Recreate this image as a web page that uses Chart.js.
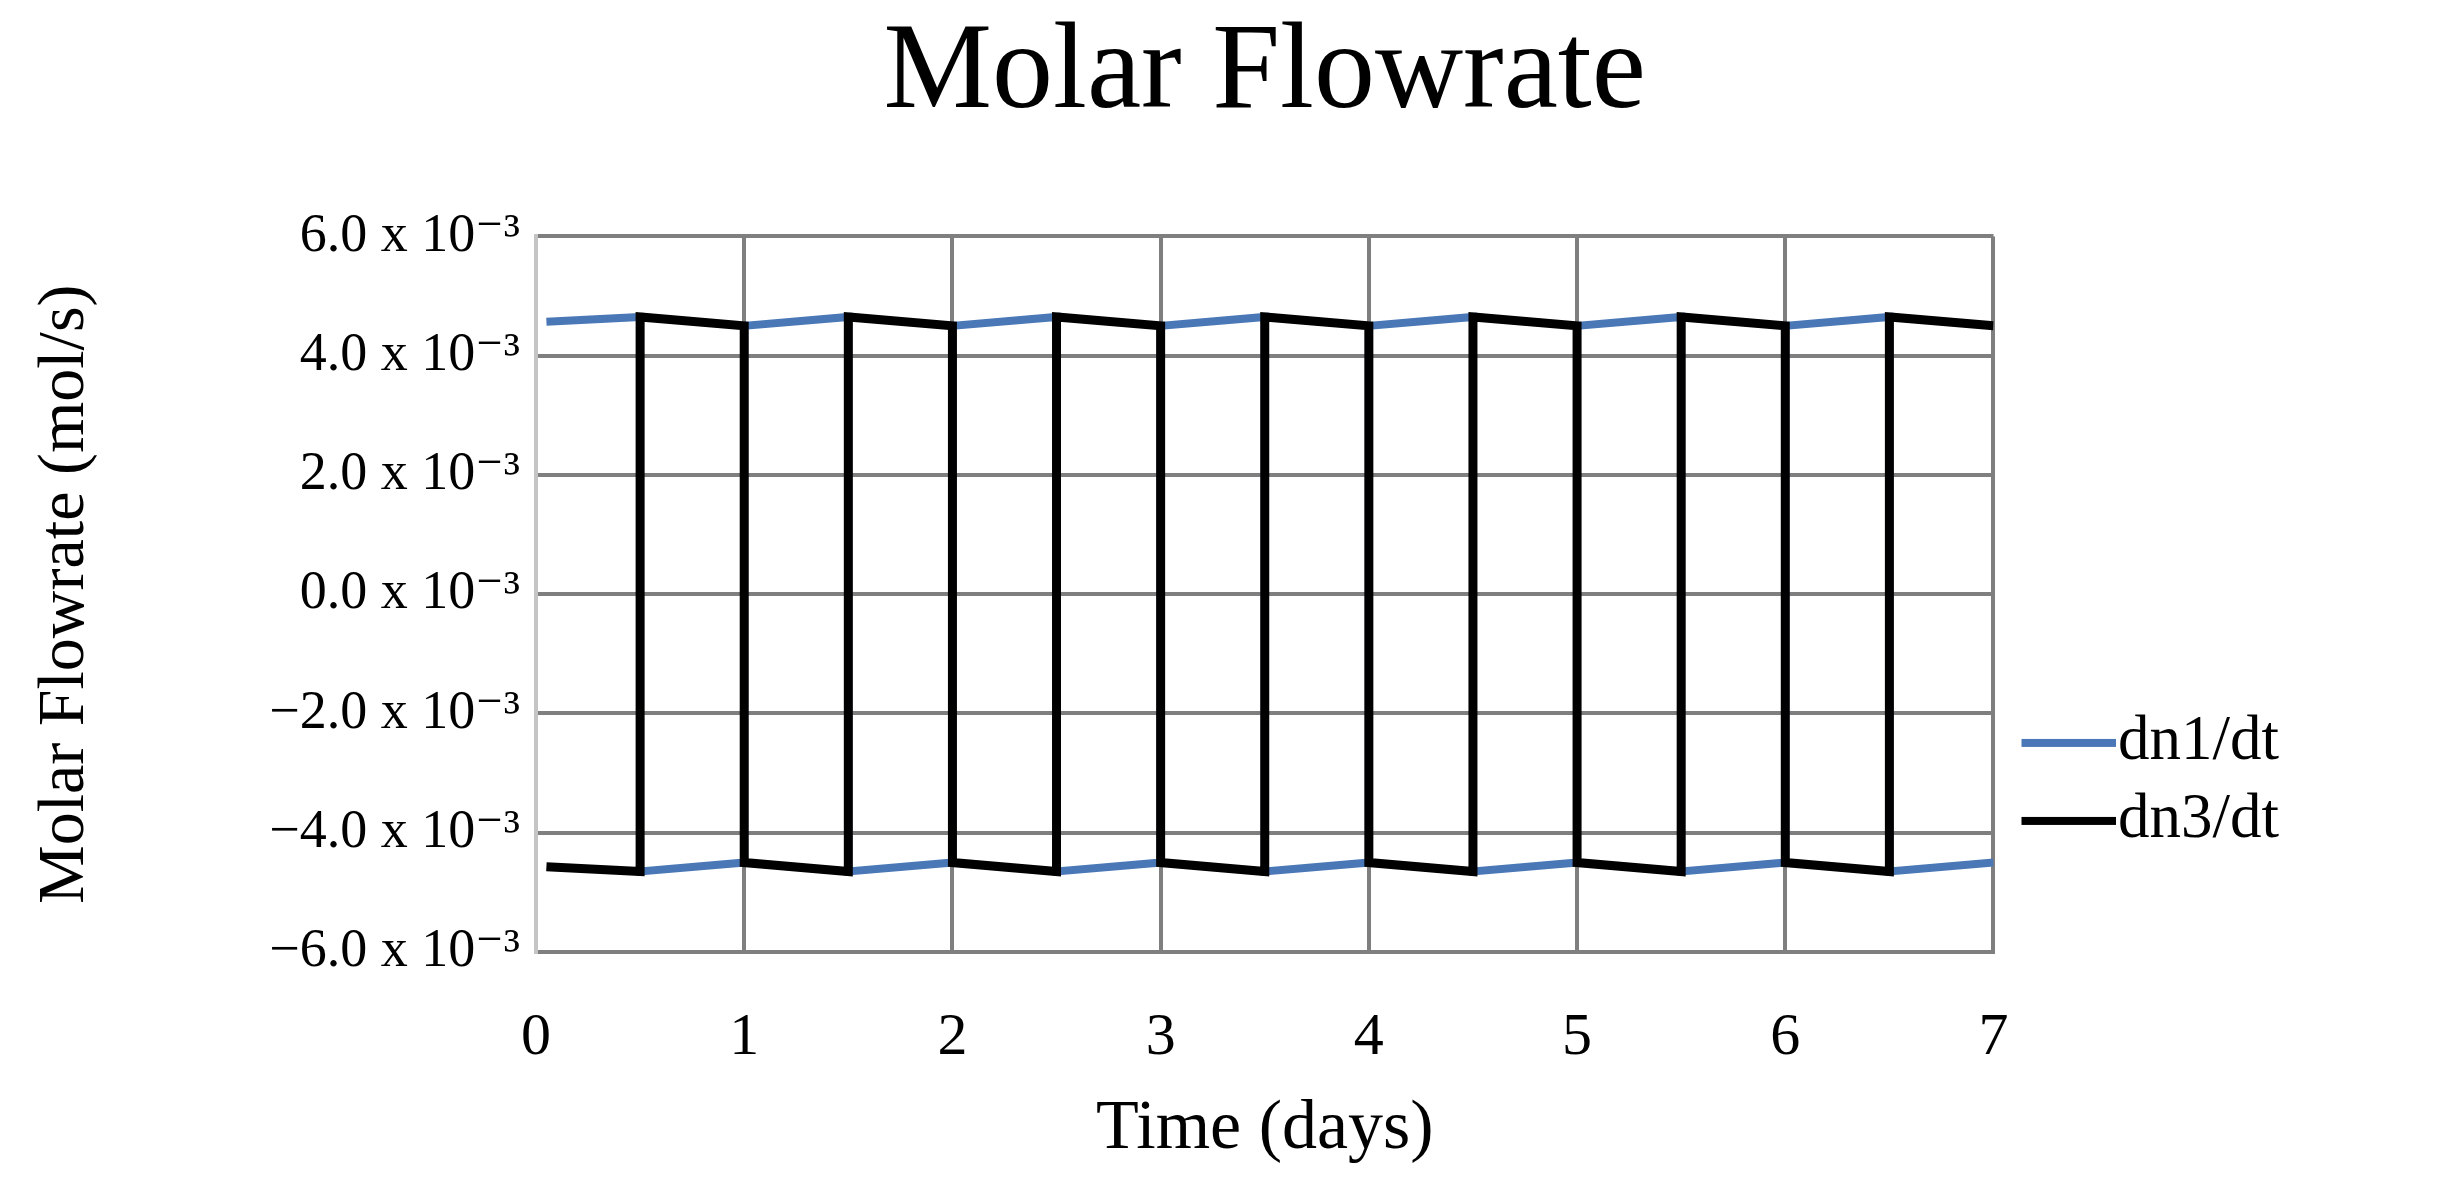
<!DOCTYPE html>
<html>
<head>
<meta charset="utf-8">
<script src="https://cdn.jsdelivr.net/npm/chart.js@4.4.1/dist/chart.umd.min.js"></script>
<style>
  html, body { margin: 0; padding: 0; background: #ffffff; }
  #wrap { width: 2457px; height: 1202px; }
</style>
</head>
<body>
<div id="wrap"><canvas id="c" width="2457" height="1202"></canvas></div>
<script>
// Time (days)
const timeDays = [0.05, 0.5, 0.5, 1, 1, 1.5, 1.5, 2, 2, 2.5, 2.5, 3, 3, 3.5, 3.5, 4, 4, 4.5, 4.5, 5, 5, 5.5, 5.5, 6, 6, 6.5, 6.5, 7];
// dn1/dt (x 10^-3 mol/s)
const dn1 = [4.57, 4.65, -4.65, -4.50, 4.50, 4.65, -4.65, -4.50, 4.50, 4.65, -4.65, -4.50, 4.50, 4.65, -4.65, -4.50, 4.50, 4.65, -4.65, -4.50, 4.50, 4.65, -4.65, -4.50, 4.50, 4.65, -4.65, -4.50];
// dn3/dt (x 10^-3 mol/s)
const dn3 = [-4.57, -4.65, 4.65, 4.50, -4.50, -4.65, 4.65, 4.50, -4.50, -4.65, 4.65, 4.50, -4.50, -4.65, 4.65, 4.50, -4.50, -4.65, 4.65, 4.50, -4.50, -4.65, 4.65, 4.50, -4.50, -4.65, 4.65, 4.50];
// y tick labels
const yTickValues = [6, 4, 2, 0, -2, -4, -6];
const yTickLabels = ['6.0 x 10\u207B\u00B3', '4.0 x 10\u207B\u00B3', '2.0 x 10\u207B\u00B3', '0.0 x 10\u207B\u00B3', '\u22122.0 x 10\u207B\u00B3', '\u22124.0 x 10\u207B\u00B3', '\u22126.0 x 10\u207B\u00B3'];
const xTickLabels = ['0', '1', '2', '3', '4', '5', '6', '7'];
const seriesNames = ['dn1/dt', 'dn3/dt'];
const seriesColors = ['#4a78b6', '#000000'];

const SERIF = '"Liberation Serif", "DejaVu Serif", serif';
const gridColor = '#7f7f7f';

const LEG_FONT = 63;
const LEG_BOX = 78;
const LEG_GAP = LEG_FONT / 2;
const LEG_INSET = 13;

// legend swatch: a line that runs from the swatch start up to the label text
function legendLine(color) {
  const c = document.createElement('canvas');
  c.width = LEG_BOX + 2 * LEG_GAP;
  c.height = 12;
  const g = c.getContext('2d');
  g.fillStyle = color;
  g.fillRect(LEG_GAP + LEG_INSET, 2, LEG_BOX + LEG_GAP - LEG_INSET - 2, 8);
  return c;
}

const pts = (ys) => timeDays.map((t, i) => ({ x: t, y: ys[i] }));

new Chart(document.getElementById('c'), {
  type: 'line',
  data: {
    datasets: [
      { label: seriesNames[0], data: pts(dn1), borderColor: seriesColors[0], backgroundColor: seriesColors[0],
        borderWidth: 8, pointRadius: 0, tension: 0, order: 1 },
      { label: seriesNames[1], data: pts(dn3), borderColor: seriesColors[1], backgroundColor: seriesColors[1],
        borderWidth: 9, pointRadius: 0, tension: 0, order: 0 }
    ]
  },
  options: {
    responsive: false,
    animation: false,
    devicePixelRatio: 1,
    layout: { padding: { left: 0, right: 168, top: 0, bottom: 0 } },
    plugins: {
      title: {
        display: true,
        fullSize: false,
        text: 'Molar Flowrate',
        color: '#000',
        font: { family: SERIF, size: 122, weight: 'normal' },
        padding: { top: 2, bottom: 88 }
      },
      legend: {
        display: true,
        position: 'right',
        fullSize: false,
        align: 'start',
        title: { display: true, text: '', font: { size: 10 }, padding: { top: 448, bottom: 0 } },
        labels: {
          color: '#000',
          font: { family: SERIF, size: LEG_FONT },
          usePointStyle: true,
          pointStyleWidth: LEG_BOX,
          boxHeight: 8,
          padding: 15,
          sort: (a, b) => a.datasetIndex - b.datasetIndex,
          generateLabels: (chart) => {
            const items = Chart.defaults.plugins.legend.labels.generateLabels(chart);
            items.forEach((it) => { it.pointStyle = legendLine(seriesColors[it.datasetIndex]); });
            return items;
          }
        }
      },
      tooltip: { enabled: false }
    },
    scales: {
      x: {
        type: 'linear',
        min: 0, max: 7,
        afterFit: (s) => { s.height = 1202 - 952; },
        grid: { color: gridColor, lineWidth: 4, drawTicks: false },
        border: { display: true, color: gridColor, width: 4 },
        ticks: {
          stepSize: 1,
          padding: 50,
          color: '#000',
          font: { family: SERIF, size: 60 },
          callback: (v) => xTickLabels[v] ?? ''
        },
        title: {
          display: true, text: 'Time (days)', color: '#000',
          font: { family: SERIF, size: 70 }, padding: { top: 0, bottom: 30 }
        }
      },
      y: {
        min: -6, max: 6,
        afterFit: (s) => { s.width = 536; },
        afterBuildTicks: (s) => { s.ticks = yTickValues.map(v => ({ value: v })); },
        grid: { color: gridColor, lineWidth: 4, drawTicks: false },
        border: { display: true, color: '#c4c4c4', width: 4 },
        ticks: {
          padding: 16,
          color: '#000',
          font: { family: SERIF, size: 54 },
          callback: (v) => yTickLabels[yTickValues.indexOf(v)] ?? ''
        },
        title: {
          display: true, text: 'Molar Flowrate (mol/s)', color: '#000',
          font: { family: SERIF, size: 66 }, padding: { top: 26, bottom: 0 }
        }
      }
    }
  }
});
</script>
</body>
</html>
